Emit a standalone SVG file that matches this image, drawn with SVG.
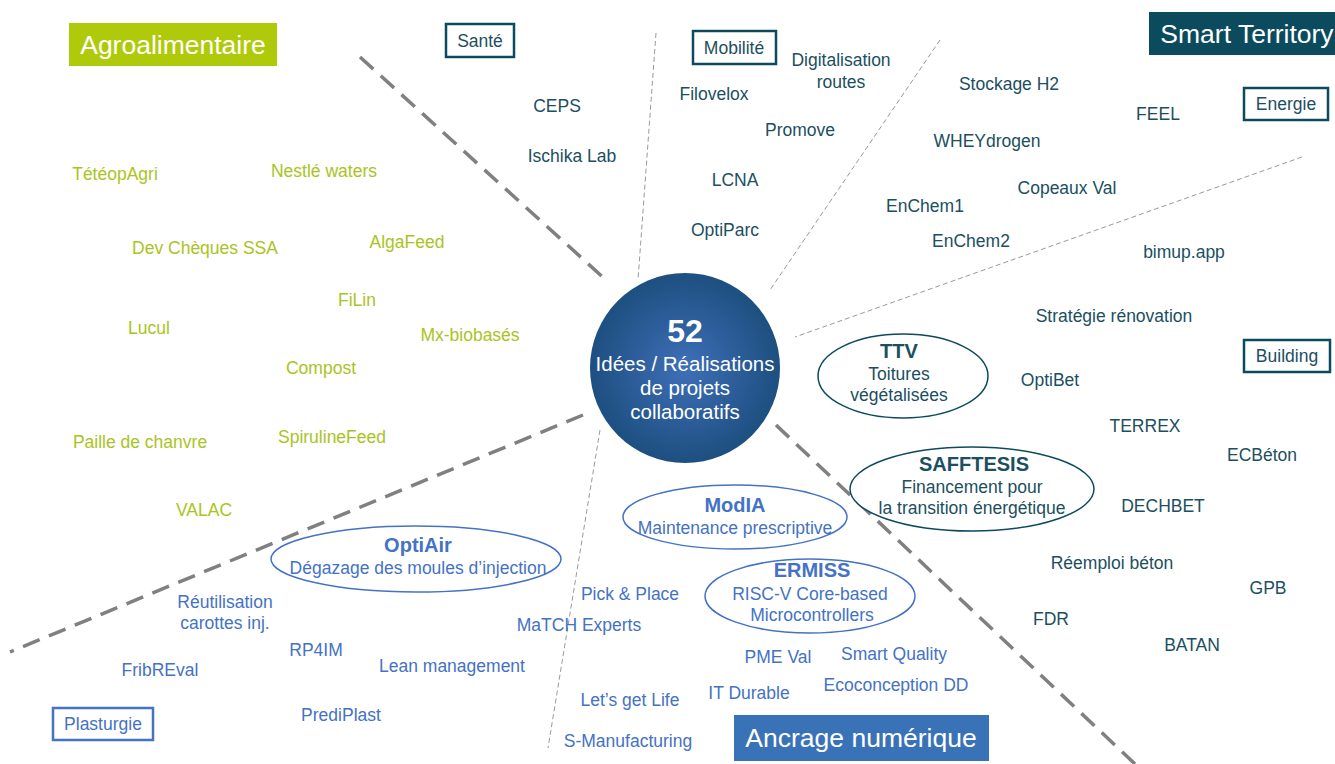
<svg xmlns="http://www.w3.org/2000/svg" width="1335" height="764" viewBox="0 0 1335 764">
<defs>
<radialGradient id="g" cx="50%" cy="50%" r="50%">
<stop offset="0" stop-color="#3F6FB8"/>
<stop offset="1" stop-color="#1D4F80"/>
</radialGradient>
<style>
text{font-family:"Liberation Sans",Arial,sans-serif;font-size:17.5px;text-anchor:middle}
.t{fill:#1B4F61}
.gr{fill:#A9C41E}
.b{fill:#4472C4}
.w{fill:#fff;font-size:26.5px}
.bold{font-weight:bold;font-size:20px}
.thick{stroke:#808080;stroke-width:3.5;stroke-dasharray:18 10;fill:none}
.thin{stroke:#9a9a9a;stroke-width:1;stroke-dasharray:5 3;fill:none}
.bx{fill:#fff;stroke:#0C4B5E;stroke-width:2.5}
.et{fill:#fff;stroke:#0C4B5E;stroke-width:1.5}
.eb{fill:#fff;stroke:#4472C4;stroke-width:1.5}
</style>
</defs>
<rect width="1335" height="764" fill="#fff"/>
<g id="connectors">
<line class="thick" x1="360" y1="57" x2="606" y2="280"/>
<line class="thick" x1="583" y1="415" x2="10" y2="652"/>
<line class="thick" x1="776" y1="425" x2="1135" y2="764"/>
<line class="thin" x1="656" y1="33" x2="638" y2="280"/>
<line class="thin" x1="940" y1="40" x2="770" y2="290"/>
<line class="thin" x1="1302" y1="157" x2="795" y2="337"/>
<line class="thin" x1="600" y1="430" x2="548" y2="748"/>
</g>
<g id="center">
<circle cx="685" cy="368" r="95" fill="url(#g)"/>
<text x="685" y="342" fill="#fff" style="font-size:32px;font-weight:bold">52</text>
<text x="685" y="371" fill="#fff" style="font-size:20.5px">Idées / Réalisations</text>
<text x="685" y="395" fill="#fff" style="font-size:20.5px">de projets</text>
<text x="685" y="419" fill="#fff" style="font-size:20.5px">collaboratifs</text>
</g>
<g id="agro">
<rect x="69" y="23" width="208" height="43" fill="#AFCA0B"/>
<text class="w" x="173" y="54">Agroalimentaire</text>
</g>
<g id="smart">
<rect x="1149" y="12" width="186" height="43" fill="#0C4B5E"/>
<text class="w" x="1247" y="43">Smart Territory</text>
</g>
<g id="ancrage">
<rect x="734" y="715" width="255" height="46" fill="#3A72B8"/>
<text class="w" x="861" y="747">Ancrage numérique</text>
</g>
<g id="sante"><rect class="bx" x="446" y="24" width="68" height="33"/><text class="t" x="480" y="47">Santé</text></g>
<g id="mobilite"><rect class="bx" x="693" y="31" width="83" height="33"/><text class="t" x="734" y="54">Mobilité</text></g>
<g id="energie"><rect class="bx" x="1244" y="88" width="84" height="32"/><text class="t" x="1286" y="110">Energie</text></g>
<g id="building"><rect class="bx" x="1244" y="340" width="86" height="32"/><text class="t" x="1287" y="362">Building</text></g>
<g id="plasturgie"><rect x="53" y="708" width="100" height="32" fill="#fff" stroke="#4472C4" stroke-width="2.5"/><text class="b" x="103" y="730">Plasturgie</text></g>
<g id="teal-items">
<text class="t" x="557" y="112">CEPS</text>
<text class="t" x="572" y="162">Ischika Lab</text>
<text class="t" x="714" y="100">Filovelox</text>
<text class="t" x="841" y="66">Digitalisation</text>
<text class="t" x="841" y="88">routes</text>
<text class="t" x="800" y="136">Promove</text>
<text class="t" x="735" y="186">LCNA</text>
<text class="t" x="725" y="236">OptiParc</text>
<text class="t" x="1009" y="90">Stockage H2</text>
<text class="t" x="1158" y="120">FEEL</text>
<text class="t" x="987" y="147">WHEYdrogen</text>
<text class="t" x="1067" y="194">Copeaux Val</text>
<text class="t" x="925" y="212">EnChem1</text>
<text class="t" x="971" y="247">EnChem2</text>
<text class="t" x="1184" y="258">bimup.app</text>
<text class="t" x="1114" y="322">Stratégie rénovation</text>
<text class="t" x="1050" y="386">OptiBet</text>
<text class="t" x="1145" y="432">TERREX</text>
<text class="t" x="1262" y="461">ECBéton</text>
<text class="t" x="1163" y="512">DECHBET</text>
<text class="t" x="1112" y="569">Réemploi béton</text>
<text class="t" x="1268" y="594">GPB</text>
<text class="t" x="1051" y="625">FDR</text>
<text class="t" x="1192" y="651">BATAN</text>
</g>
<g id="ttv">
<ellipse class="et" cx="903" cy="376" rx="85" ry="42"/>
<text class="t bold" x="899" y="358">TTV</text>
<text class="t" x="899" y="380">Toitures</text>
<text class="t" x="899" y="401">végétalisées</text>
</g>
<g id="safftesis">
<ellipse class="et" cx="972" cy="489" rx="122" ry="42"/>
<text class="t bold" x="974" y="471">SAFFTESIS</text>
<text class="t" x="972" y="493">Financement pour</text>
<text class="t" x="972" y="514">la transition énergétique</text>
</g>
<g id="green-items">
<text class="gr" x="115" y="180">TétéopAgri</text>
<text class="gr" x="324" y="177">Nestlé waters</text>
<text class="gr" x="205" y="254">Dev Chèques SSA</text>
<text class="gr" x="407" y="248">AlgaFeed</text>
<text class="gr" x="357" y="306">FiLin</text>
<text class="gr" x="149" y="334">Lucul</text>
<text class="gr" x="470" y="341">Mx-biobasés</text>
<text class="gr" x="321" y="374">Compost</text>
<text class="gr" x="140" y="448">Paille de chanvre</text>
<text class="gr" x="332" y="443">SpirulineFeed</text>
<text class="gr" x="204" y="516">VALAC</text>
</g>
<g id="optiair">
<ellipse class="eb" cx="416" cy="559" rx="145" ry="33"/>
<text class="b bold" x="418" y="552">OptiAir</text>
<text class="b" x="418" y="574">Dégazage des moules d’injection</text>
</g>
<g id="modia">
<ellipse class="eb" cx="735" cy="517" rx="112" ry="32"/>
<text class="b bold" x="735" y="512">ModIA</text>
<text class="b" x="735" y="534">Maintenance prescriptive</text>
</g>
<g id="ermiss">
<ellipse class="eb" cx="810" cy="596" rx="105" ry="37"/>
<text class="b bold" x="812" y="577">ERMISS</text>
<text class="b" x="810" y="600">RISC-V Core-based</text>
<text class="b" x="812" y="621">Microcontrollers</text>
</g>
<g id="blue-items">
<text class="b" x="225" y="608">Réutilisation</text>
<text class="b" x="225" y="629">carottes inj.</text>
<text class="b" x="160" y="676">FribREval</text>
<text class="b" x="316" y="656">RP4IM</text>
<text class="b" x="452" y="672">Lean management</text>
<text class="b" x="341" y="721">PrediPlast</text>
<text class="b" x="630" y="600">Pick &amp; Place</text>
<text class="b" x="579" y="631">MaTCH Experts</text>
<text class="b" x="778" y="663">PME Val</text>
<text class="b" x="894" y="660">Smart Quality</text>
<text class="b" x="630" y="706">Let’s get Life</text>
<text class="b" x="749" y="699">IT Durable</text>
<text class="b" x="896" y="691">Ecoconception DD</text>
<text class="b" x="628" y="747">S-Manufacturing</text>
</g>
</svg>
